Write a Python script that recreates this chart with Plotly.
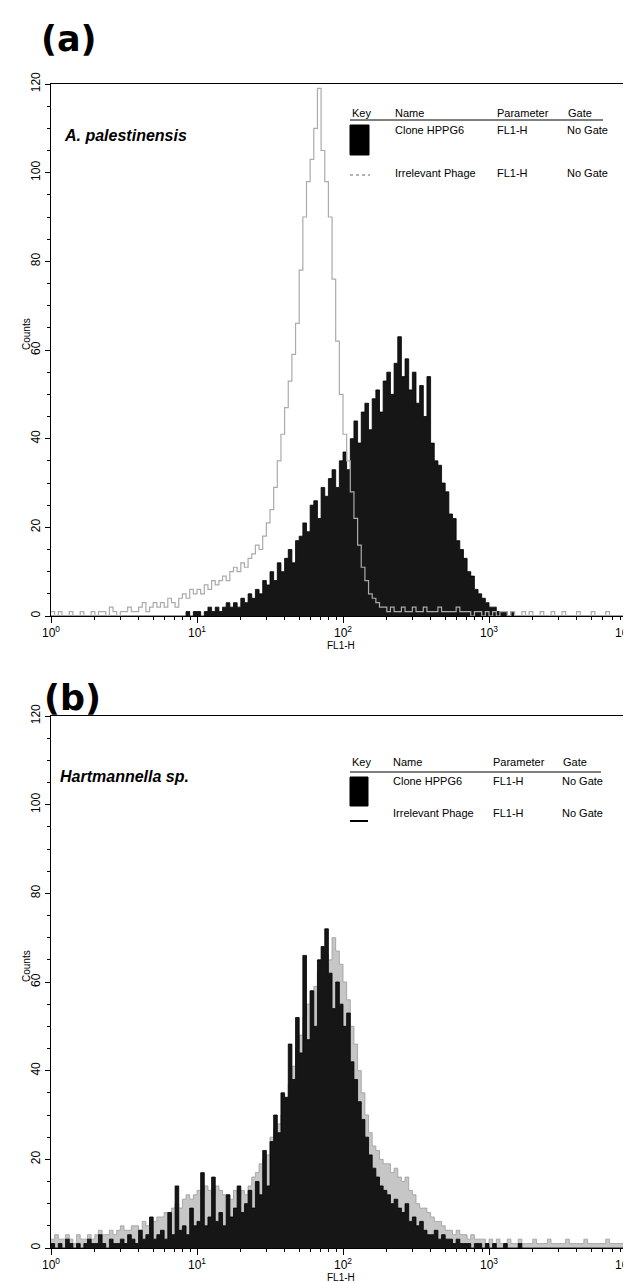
import numpy as np
import plotly.graph_objects as go

# ---------------- data (counts per channel; channels are 0.025-decade bins from 10^0 to 10^4)
BIN_WIDTH_DECADES = 0.025
N_BINS = 160

clone_a = [
    0,0,0,0,0,0,0,0,0,0, 0,0,0,0,0,0,0,0,0,0, 0,0,0,0,0,0,0,0,0,0, 0,0,0,0,0,0,0,1,0,1,
    1,0,1,2,1,2,1,2,3,2, 3,2,4,3,5,4,6,5,8,7, 10,8,12,10,13,15,12,17,18,21, 19,25,26,22,29,27,31,33,29,35,
    37,33,40,44,39,46,48,42,49,51, 46,53,55,50,57,63,54,58,51,55, 48,52,45,54,39,35,34,30,28,23, 22,17,15,13,10,9,6,5,4,3,
    2,2,1,1,1,0,1,0,0,0, 0,0,0,0,0,0,0,0,0,0, 0,0,0,0,0,0,0,0,0,0, 0,0,0,0,0,0,0,0,0,0,
]
phage_a = [
    1,0,1,0,0,1,0,0,1,0, 0,1,0,1,1,0,2,1,0,1, 1,2,1,1,2,3,1,2,3,2, 3,2,4,3,2,4,5,4,6,5,
    6,5,7,6,8,7,8,9,8,10, 11,10,12,11,13,14,16,15,18,21, 24,29,35,41,47,53,59,66,78,90, 98,103,110,119,105,98,90,76,62,50,
    41,35,28,22,16,11,8,5,4,3, 2,2,1,2,1,1,2,1,1,2, 1,1,2,1,1,1,2,1,1,1, 1,2,1,1,1,0,1,1,0,1,
    0,1,0,1,1,0,1,0,0,1, 0,1,0,0,1,0,0,1,0,0, 1,0,0,0,1,0,0,0,1,0, 0,0,1,0,0,0,0,1,0,2,
]
clone_b = [
    1,0,1,0,2,1,0,1,0,1, 2,1,1,3,1,0,2,1,1,2, 1,3,2,1,4,2,3,7,2,3, 4,2,8,3,14,4,5,3,9,5,
    6,17,5,7,16,6,8,5,12,7, 9,14,8,10,13,9,15,12,22,14, 24,30,26,35,34,46,38,52,44,66, 47,58,50,65,68,72,62,54,60,55,
    50,53,42,38,33,29,25,21,18,16, 14,13,12,10,11,9,8,10,6,7, 5,6,4,3,3,4,2,3,2,2, 1,2,1,1,1,0,1,1,0,1,
    0,1,0,0,1,0,0,0,1,0, 0,0,0,0,0,0,0,0,0,0, 0,0,0,0,0,0,0,0,0,0, 0,0,0,0,0,0,0,0,0,0,
]
phage_b = [
    2,3,2,2,3,2,1,3,2,2, 3,2,3,4,3,3,4,3,4,5, 4,4,5,5,4,6,5,6,6,7, 7,8,8,9,10,9,11,12,11,12,
    13,12,14,13,12,14,13,12,12,11, 13,12,13,12,14,16,17,19,20,21, 25,27,28,30,33,37,41,45,48,52, 55,58,59,62,64,66,65,70,67,64,
    60,56,50,46,40,35,30,26,23,22, 20,19,19,17,18,16,15,16,13,12, 10,9,9,8,7,6,6,5,4,4, 3,4,3,3,2,3,2,2,2,1,
    2,1,2,1,1,2,1,1,2,1, 1,1,2,1,1,1,2,1,1,1, 1,2,1,1,1,1,2,1,1,1, 1,1,2,1,1,1,1,2,1,3,
]
for arr in (clone_a, phage_a, clone_b, phage_b):
    assert len(arr) == N_BINS, len(arr)

x_tick_vals = [1, 10, 100, 1000, 10000]
x_tick_text = ["10<sup>0</sup>", "10<sup>1</sup>", "10<sup>2</sup>", "10<sup>3</sup>", "10<sup>4</sup>"]
y_tick_vals = [0, 20, 40, 60, 80, 100, 120]
legend_names = ["Clone HPPG6", "Irrelevant Phage"]
legend_param = ["FL1-H", "FL1-H"]
legend_gate = ["No Gate", "No Gate"]

# ---------------- geometry helpers
W, H = 631, 1282
ML, MR, MT, MB = 43, 4, 76, 42
PW, PH = W - ML - MR, H - MT - MB

def px(x):
    return (x - ML) / PW

def py(y):
    return (H - MB - y) / PH

edges = 10 ** (np.arange(N_BINS + 1) * BIN_WIDTH_DECADES)

def step(counts):
    return edges, list(counts) + [counts[-1]]

fig = go.Figure()

xa, ya = step(clone_a)
fig.add_trace(go.Scatter(x=xa, y=ya, mode="lines", line=dict(shape="hv", color="#000000", width=0.8),
                         fill="tozeroy", fillcolor="#161616", xaxis="x", yaxis="y", showlegend=False))
xa, ya = step(phage_a)
fig.add_trace(go.Scatter(x=xa, y=ya, mode="lines", line=dict(shape="hv", color="#ababab", width=1.2),
                         xaxis="x", yaxis="y", showlegend=False))
xb, yb = step(phage_b)
fig.add_trace(go.Scatter(x=xb, y=yb, mode="lines", line=dict(shape="hv", color="#9a9a9a", width=0.8),
                         fill="tozeroy", fillcolor="#c6c6c6", xaxis="x2", yaxis="y2", showlegend=False))
xb, yb = step(clone_b)
fig.add_trace(go.Scatter(x=xb, y=yb, mode="lines", line=dict(shape="hv", color="#000000", width=0.8),
                         fill="tozeroy", fillcolor="#161616", xaxis="x2", yaxis="y2", showlegend=False))

minor_x = [m * 10 ** k for k in range(4) for m in range(2, 10)]
xaxis_common = dict(type="log", range=[0, 4], showline=True, mirror=True, linecolor="black", linewidth=1,
                    ticks="outside", ticklen=6, tickcolor="black", tickvals=x_tick_vals, showticklabels=False,
                    showgrid=False, zeroline=False,
                    minor=dict(tickvals=minor_x, ticks="outside", ticklen=3, tickcolor="black", showgrid=False))
yaxis_common = dict(range=[0, 120], showline=True, mirror=True, linecolor="black", linewidth=1,
                    ticks="outside", ticklen=5, tickcolor="black", tickvals=y_tick_vals, tickangle=-90,
                    tickfont=dict(family="Liberation Sans", size=12, color="black"), showgrid=False, zeroline=False,
                    minor=dict(dtick=5, ticks="outside", ticklen=3, tickcolor="black", showgrid=False))

ya_bottom_px, ya_top_px = 608, 76
yb_bottom_px, yb_top_px = 1240, 708

fig.update_layout(
    width=W, height=H, margin=dict(l=ML, r=MR, t=MT, b=MB),
    paper_bgcolor="white", plot_bgcolor="white", showlegend=False,
    xaxis=dict(domain=[0, 1], anchor="y", **xaxis_common),
    yaxis=dict(domain=[py(ya_bottom_px), py(ya_top_px)], anchor="x", **yaxis_common),
    xaxis2=dict(domain=[0, 1], anchor="y2", **xaxis_common),
    yaxis2=dict(domain=[py(yb_bottom_px), py(yb_top_px)], anchor="x2", **yaxis_common),
)

ann = []
shapes = []
SANS = "Liberation Sans"

def text(x, y, s, size=11, family=SANS, anchor="left", angle=0, bold=False, italic=False, xref="paper", xshift=0):
    t = s
    if bold:
        t = "<b>" + t + "</b>"
    if italic:
        t = "<i>" + t + "</i>"
    ann.append(dict(x=x if xref != "paper" else px(x), y=py(y), xref=xref, yref="paper", text=t, showarrow=False,
                    xanchor=anchor, yanchor="middle", textangle=angle, xshift=xshift,
                    font=dict(family=family, size=size, color="black")))

# panel labels
text(31, 31, "(a)", size=35, family="DejaVu Sans", bold=True)
text(34, 690, "(b)", size=35, family="DejaVu Sans", bold=True)
# species
text(54, 128, "A. palestinensis", size=16, bold=True, italic=True)
text(50, 768, "Hartmannella sp.", size=16, bold=True, italic=True)
# axis titles and x tick labels (placed at the tick values through the x axes)
for (base, xr) in ((ya_bottom_px, "x"), (yb_bottom_px, "x2")):
    text(18, base - 282, "Counts", size=10, anchor="center", angle=-90)
    text(333, base + 29, "FL1-H", size=10, anchor="center")
    for i, (v, t) in enumerate(zip(x_tick_vals, x_tick_text)):
        last = i == len(x_tick_vals) - 1
        text(np.log10(v), base + 16, t, size=12, anchor=("right" if last else "center"), xref=xr)

# legend tables
def legend(y_head, y_line, y_r1, y_r2, box, xs, second_key):
    kx, nx, pxx, gx, lx2 = xs
    text(kx, y_head, "Key")
    text(nx, y_head, "Name")
    text(pxx, y_head, "Parameter")
    text(gx, y_head, "Gate")
    shapes.append(dict(type="line", xref="paper", yref="paper", x0=px(kx), x1=px(lx2), y0=py(y_line), y1=py(y_line),
                       line=dict(color="black", width=1)))
    for i, yr in enumerate((y_r1, y_r2)):
        text(nx, yr, legend_names[i])
        text(pxx, yr, legend_param[i])
        text(gx - 1, yr, legend_gate[i])
    shapes.append(dict(type="rect", xref="paper", yref="paper", x0=px(box[0]), x1=px(box[1]), y0=py(box[2]), y1=py(box[3]),
                       line=dict(color="black", width=1), fillcolor="black"))
    shapes.append(dict(type="line", xref="paper", yref="paper", x0=px(second_key[0]), x1=px(second_key[1]),
                       y0=py(second_key[2]), y1=py(second_key[2]),
                       line=dict(color=second_key[3], width=second_key[4], dash=second_key[5])))

legend(105, 112, 122, 165, (342, 361, 117, 147), (342, 385, 487, 558, 595), (342, 362, 167, "#999999", 1.5, "dot"))
legend(754, 764, 773, 805, (342, 360, 769, 798), (342, 383, 483, 553, 593), (342, 360, 813, "black", 2, "solid"))

fig.update_layout(annotations=ann, shapes=shapes)
fig.write_html("out.html")
